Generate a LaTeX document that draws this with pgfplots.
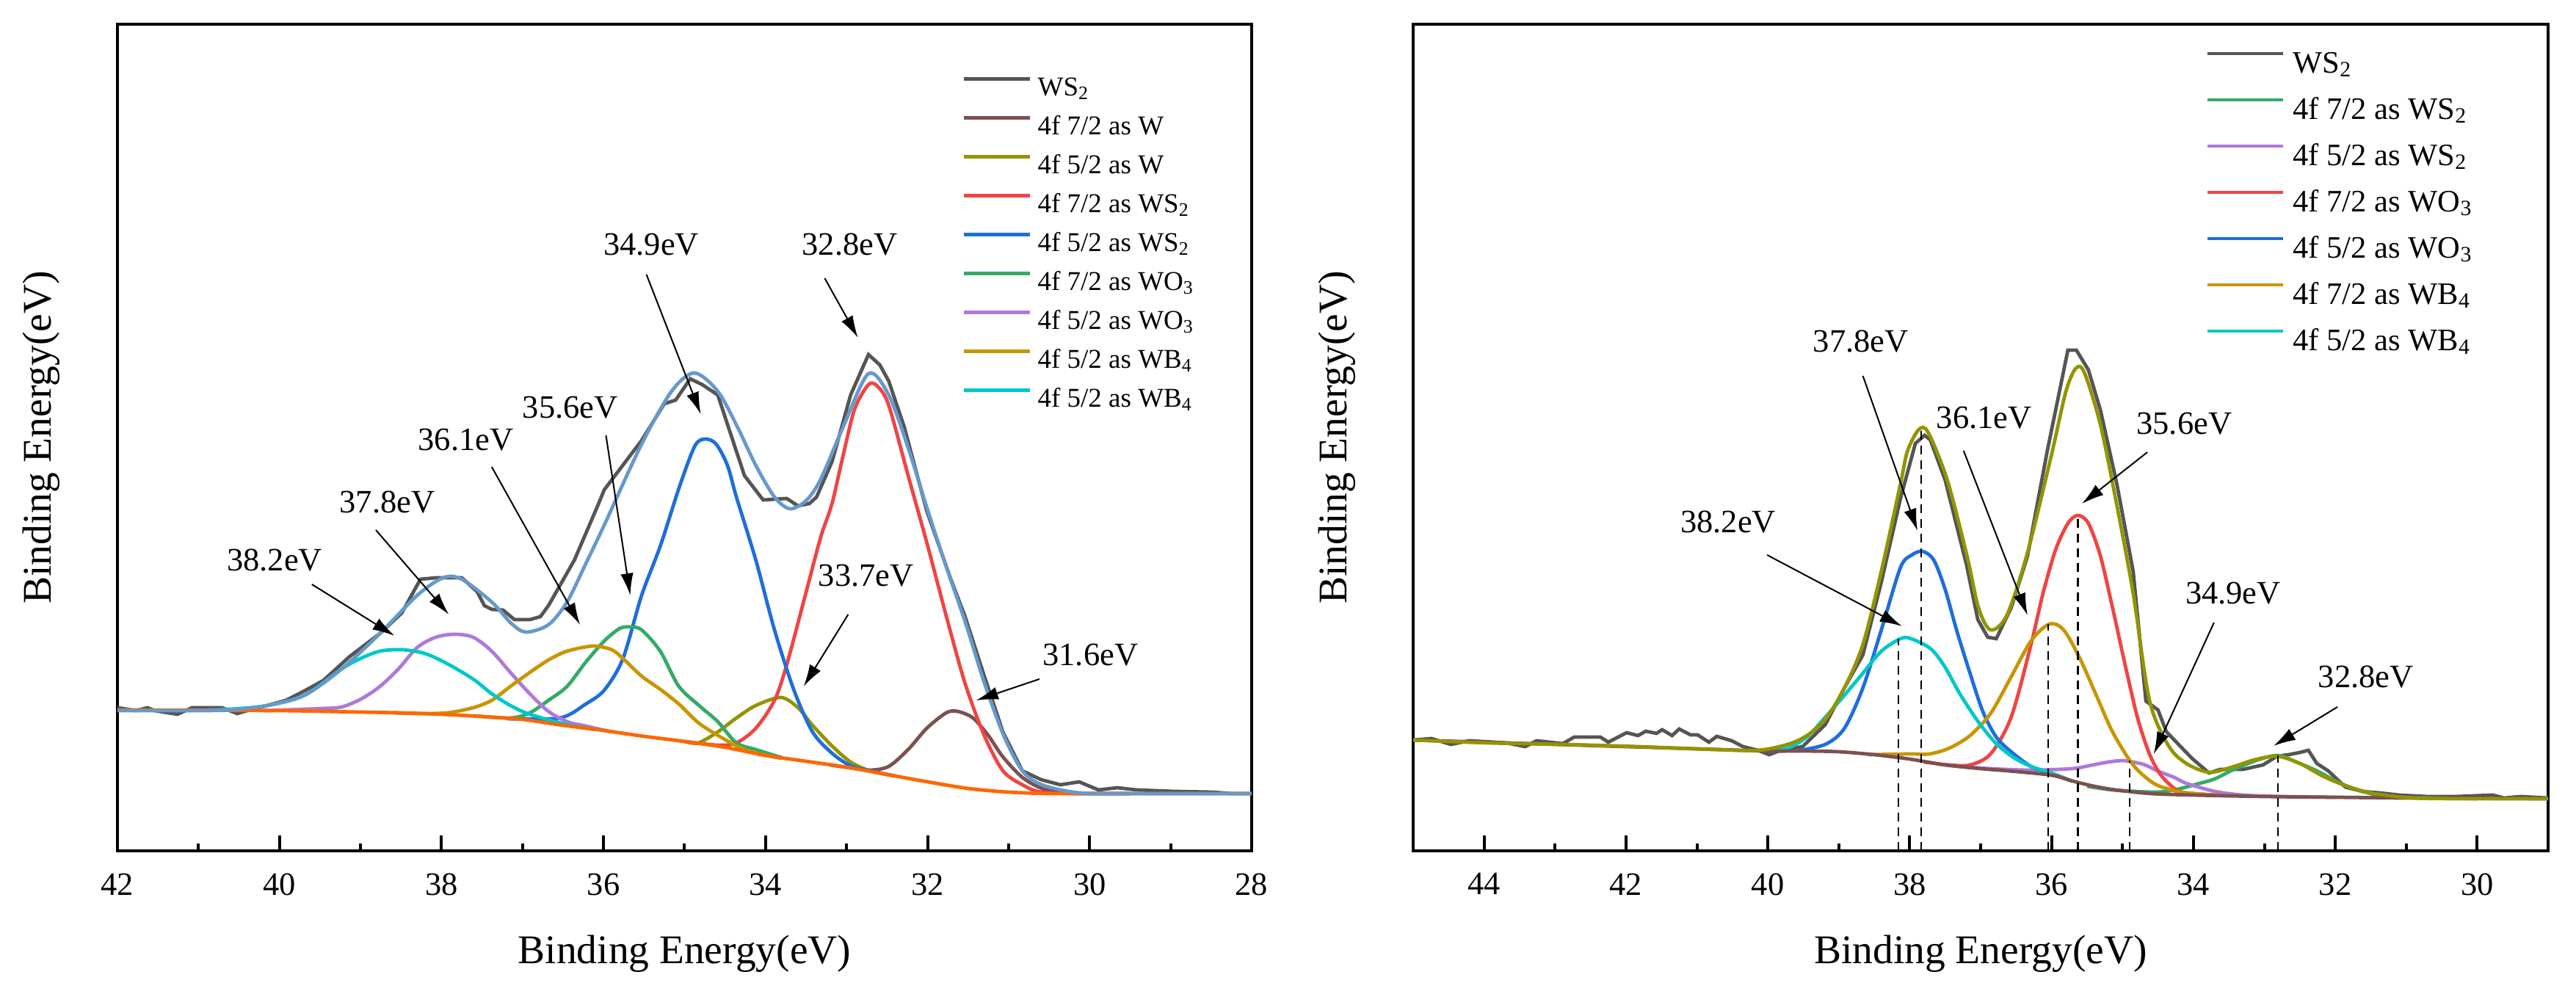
\documentclass[border=0pt]{standalone}
\usepackage{fontspec}
\setmainfont{Liberation Serif}
\usepackage{pgfplots}
\pgfplotsset{compat=1.18}
\usetikzlibrary{arrows.meta}

\definecolor{cgray}{RGB}{85,85,85}
\definecolor{cenv}{RGB}{102,153,204}
\definecolor{corange}{RGB}{255,102,0}
\definecolor{cbrown}{RGB}{126,80,80}
\definecolor{colive}{RGB}{148,148,0}
\definecolor{cred}{RGB}{240,68,68}
\definecolor{cblue}{RGB}{30,110,220}
\definecolor{cgreen}{RGB}{52,170,102}
\definecolor{cpurple}{RGB}{175,120,220}
\definecolor{cgold}{RGB}{200,150,0}
\definecolor{ccyan}{RGB}{0,200,200}

\tikzset{
  arr/.style={-{Latex[length=6pt,width=3.5pt]}, line width=0.4pt, black},
  lbl/.style={font=\fontsize{8.9}{10}\selectfont, inner sep=0pt},
  dl/.style={black, line width=0.5pt, dash pattern=on 2.4pt off 1.6pt},
}
\pgfplotsset{
  xpsaxis/.style={
    scale only axis, height=225.2pt,
    x dir=reverse, ymin=0, ymax=1126,
    ytick=\empty,
    xtick distance=2, minor x tick num=1,
    tick align=inside, xtick pos=left,
    major tick length=4.2pt, minor tick length=2pt,
    major tick style={black, line width=0.8pt},
    minor tick style={black, line width=0.8pt},
    axis line style={line width=0.9pt},
    /pgf/number format/assume math mode=true,
    xticklabel style={font=\fontsize{8.9}{10}\selectfont, yshift=-2.6pt},
    label style={font=\fontsize{11.1}{13}\selectfont},
    xlabel={Binding Energy(eV)}, ylabel={Binding Energy(eV)},
    xlabel style={at={(axis description cs:0.5,-0.1359)}, anchor=base},
    ylabel style={at={(axis description cs:-0.0583,0.5)}, anchor=base},
    legend cell align=left,
    every axis plot/.append style={line width=0.95pt},
  },
}

\begin{document}
\begin{tikzpicture}
\path[use as bounding box] (0,0) rectangle (701.8pt,270.6pt);

% ---------------- LEFT ----------------
\begin{axis}[xpsaxis, width=309pt, at={(32pt,38.8pt)}, anchor=south west,
  xmin=28, xmax=42,
  legend style={draw=none, fill=none, at={(axis description cs:0.7443,0.9458)}, anchor=north west,
    inner sep=0pt, row sep=0.8pt, column sep=0.6pt, font=\fontsize{7.4}{8}\selectfont,
    nodes={inner sep=1pt, text height=6pt, text depth=1.8pt}},
  legend image code/.code={\draw[#1] (0pt,2.4pt) -- (18pt,2.4pt);},
]
\addplot[cgray] coordinates {(42.00,195) (41.77,191) (41.63,195) (41.54,191) (41.26,186) (41.08,195) (40.84,195) (40.71,195) (40.52,187) (40.34,193) (40.15,198) (39.92,205) (39.69,218) (39.46,232) (39.13,265) (38.76,296) (38.49,324) (38.26,370) (38.07,372) (37.75,372) (37.56,353) (37.47,334) (37.38,329) (37.24,328) (37.10,315) (36.91,315) (36.78,319) (36.68,334) (36.36,396) (36.08,468) (35.99,492) (35.53,559) (35.25,609) (35.11,614) (34.93,643) (34.78,635) (34.59,621) (34.26,511) (34.03,478) (33.74,480) (33.60,470) (33.46,473) (33.37,482) (33.18,530) (32.95,621) (32.73,676) (32.59,662) (32.48,640) (32.29,578) (32.01,463) (31.72,372) (31.54,320) (31.30,238) (31.07,162) (30.83,109) (30.60,97) (30.36,90) (30.13,94) (29.89,83) (29.66,86) (29.42,83) (28.95,81) (28.48,80) (28.25,78) (28.00,78)};
\addlegendentry{WS\textsubscript{2}}
\addplot[cbrown, smooth, tension=0.5] coordinates {(33.2,117) (32.95,113) (32.71,110) (32.48,115) (32.24,138) (32.01,167) (31.77,188) (31.63,190) (31.44,181) (31.25,157) (31.07,128) (30.83,100) (30.59,85) (30.36,80) (30.13,78) (29.5,78)};
\addlegendentry{4f 7/2 as W}
\addplot[colive, smooth, tension=0.5] coordinates {(35.0,149) (34.83,147) (34.59,162) (34.36,181) (34.12,198) (33.81,209) (33.60,195) (33.42,171) (33.18,143) (32.95,121) (32.71,109) (32.4,102)};
\addlegendentry{4f 5/2 as W}
\addplot[cred, smooth, tension=0.5] coordinates {(35.0,149) (34.59,144) (34.36,147) (34.12,167) (33.89,205) (33.74,253) (33.51,348) (33.32,427) (33.18,473) (33.04,540) (32.90,602) (32.73,635) (32.62,633) (32.48,607) (32.24,511) (32.01,420) (31.77,320) (31.54,229) (31.30,157) (31.07,109) (30.83,90) (30.60,80) (30.13,78) (29.5,78)};
\addlegendentry{4f 7/2 as WS\textsubscript{2}}
\addplot[cblue, smooth, tension=0.5] coordinates {(37.2,180) (36.54,181) (36.22,200) (35.99,219) (35.76,262) (35.53,348) (35.30,415) (35.06,497) (34.87,552) (34.74,561) (34.61,554) (34.47,525) (34.36,482) (34.12,396) (33.89,301) (33.65,219) (33.42,162) (33.18,133) (32.95,116) (32.71,109) (32.4,102)};
\addlegendentry{4f 5/2 as WS\textsubscript{2}}
\addplot[cgreen, smooth, tension=0.5] coordinates {(37.6,184) (37.15,181) (36.91,188) (36.68,205) (36.45,224) (36.22,257) (35.99,286) (35.80,303) (35.67,305) (35.53,301) (35.30,272) (35.07,224) (34.80,196) (34.59,176) (34.36,147) (34.12,138) (33.8,127)};
\addlegendentry{4f 7/2 as WO\textsubscript{3}}
\addplot[cpurple, smooth, tension=0.5] coordinates {(40.2,191) (39.92,192) (39.46,194) (39.23,196) (38.99,207) (38.76,224) (38.53,248) (38.30,277) (38.07,291) (37.84,295) (37.61,291) (37.38,272) (37.15,243) (36.91,214) (36.68,190) (36.45,176) (36.22,170) (35.9,162)};
\addlegendentry{4f 5/2 as WO\textsubscript{3}}
\addplot[cgold, smooth, tension=0.5] coordinates {(38.6,188) (38.30,187) (37.93,188) (37.61,195) (37.38,205) (37.15,224) (36.91,243) (36.68,260) (36.45,272) (36.13,279) (35.90,274) (35.76,262) (35.53,238) (35.30,220) (35.07,200) (34.80,172) (34.36,143) (34.12,133) (33.8,126)};
\addlegendentry{4f 5/2 as WB\textsubscript{4}}
\addplot[ccyan, smooth, tension=0.5] coordinates {(41.2,191) (40.61,193) (40.15,198) (39.69,212) (39.23,248) (39.00,262) (38.76,272) (38.49,274) (38.21,269) (37.93,255) (37.61,234) (37.38,214) (37.15,198) (36.91,186) (36.45,172) (36.1,165)};
\addlegendentry{4f 5/2 as WB\textsubscript{4}}
\addplot[corange, smooth, tension=0.5, forget plot] coordinates {(42,192) (40,191) (39,189) (38.5,188) (38,186) (37.5,183) (37,179) (36.5,171) (36,164) (35.5,156) (35,149) (34.5,141) (34,130) (33.5,122) (33,114) (32.5,104) (32,94) (31.5,85) (31,80) (30.5,78) (30,78) (28,78)};
\addplot[cenv, smooth, tension=0.5, forget plot] coordinates {(42.00,191) (41.00,191) (40.61,192) (40.15,198) (39.69,212) (39.23,248) (38.76,296) (38.30,348) (37.98,372) (37.75,370) (37.38,339) (37.14,310) (36.96,298) (36.68,308) (36.45,339) (36.22,391) (35.99,444) (35.53,554) (35.16,626) (34.88,651) (34.59,626) (34.35,578) (34.12,525) (33.89,482) (33.70,466) (33.50,477) (33.32,506) (33.04,578) (32.73,650) (32.48,621) (32.24,549) (32.01,468) (31.77,387) (31.53,310) (31.30,229) (31.06,157) (30.83,109) (30.59,90) (30.13,79) (29.50,78) (28.00,78)};
% annotations
\node[lbl] at (40.06,396) {38.2eV};
\draw[arr] (39.60,363) -- (38.58,293);
\node[lbl] at (38.67,475) {37.8eV};
\draw[arr] (38.81,437) -- (37.91,322);
\node[lbl] at (37.70,560) {36.1eV};
\draw[arr] (37.38,523) -- (36.29,308);
\node[lbl] at (36.41,604) {35.6eV};
\draw[arr] (35.97,566) -- (35.67,348);
\node[lbl] at (35.41,826) {34.9eV};
\draw[arr] (35.47,785) -- (34.80,595);
\node[lbl] at (32.96,826) {32.8eV};
\draw[arr] (33.27,780) -- (32.86,699);
\node[lbl] at (32.76,375) {33.7eV};
\draw[arr] (32.98,322) -- (33.53,224);
\node[lbl] at (29.99,267) {31.6eV};
\draw[arr] (30.62,234) -- (31.40,205);
\end{axis}

% ---------------- RIGHT ----------------
\begin{axis}[xpsaxis, width=309.2pt, at={(385pt,38.8pt)}, anchor=south west,
  xmin=29, xmax=45,
  legend style={draw=none, fill=none, at={(axis description cs:0.6979,0.9769)}, anchor=north west,
    inner sep=0pt, row sep=1.8pt, column sep=1.2pt, font=\fontsize{8.5}{9}\selectfont,
    nodes={inner sep=1pt, text height=6.8pt, text depth=2pt}},
  legend image code/.code={\draw[#1] (0pt,2.8pt) -- (20.6pt,2.8pt);},
]
\addplot[cgray] coordinates {(45.00,151) (44.74,153) (44.47,145) (44.21,150) (43.68,147) (43.42,142) (43.26,150) (42.89,146) (42.73,155) (42.36,155) (42.25,148) (41.99,161) (41.83,157) (41.72,163) (41.57,160) (41.49,165) (41.35,157) (41.25,166) (41.09,158) (40.99,158) (40.83,148) (40.72,156) (40.51,150) (40.35,142) (40.14,137) (39.98,131) (39.82,137) (39.51,142) (39.19,172) (38.92,222) (38.66,267) (38.40,366) (38.13,480) (37.92,555) (37.79,566) (37.71,560) (37.50,505) (37.20,390) (37.04,315) (36.90,291) (36.78,289) (36.57,331) (36.34,401) (36.06,545) (35.77,682) (35.65,682) (35.48,655) (35.31,600) (35.08,500) (34.85,381) (34.67,204) (34.50,192) (34.38,162) (34.18,142) (34.02,126) (33.78,106) (33.62,111) (33.30,111) (33.02,117) (32.82,129) (32.66,131) (32.50,134) (32.38,137) (32.26,119) (32.10,109) (31.86,87) (31.62,81) (31.38,79) (31.10,76) (30.70,74) (30.30,74) (29.78,76) (29.62,72) (29.38,74) (29.02,72) (29.00,72)};
\addlegendentry{WS\textsubscript{2}}
\addplot[cgreen, smooth, tension=0.5] coordinates {(35.5,88) (35.14,83) (34.56,80) (34.27,83) (33.95,91) (33.70,98) (33.45,110) (33.12,123) (32.81,130) (32.55,121) (32.26,109) (31.97,94) (31.69,83) (31.40,76) (31.11,73) (30.50,72) (30.0,71)};
\addlegendentry{4f 7/2 as WS\textsubscript{2}}
\addplot[cpurple, smooth, tension=0.5] coordinates {(37.3,115) (36.86,112) (36.29,110) (35.71,112) (35.42,117) (35.20,121) (35.00,123) (34.85,121) (34.68,117) (34.51,109) (34.27,100) (34.10,92) (33.70,81) (33.30,76) (32.74,74) (32.0,73)};
\addlegendentry{4f 5/2 as WS\textsubscript{2}}
\addplot[cred, smooth, tension=0.5] coordinates {(37.8,121) (37.44,117) (37.15,117) (36.86,132) (36.57,182) (36.29,281) (36.12,351) (35.94,411) (35.77,446) (35.63,457) (35.48,446) (35.31,401) (35.14,331) (34.96,252) (34.79,182) (34.62,132) (34.45,102) (34.22,82) (33.99,78) (33.50,75)};
\addlegendentry{4f 7/2 as WO\textsubscript{3}}
\addplot[cblue, smooth, tension=0.5] coordinates {(39.60,136) (39.19,145) (38.92,167) (38.66,222) (38.40,301) (38.13,386) (37.97,403) (37.82,408) (37.66,396) (37.50,356) (37.34,301) (37.16,245) (36.97,190) (36.78,155) (36.57,135) (36.29,115) (36.00,105) (35.71,95)};
\addlegendentry{4f 5/2 as WO\textsubscript{3}}
\addplot[cgold, smooth, tension=0.5] coordinates {(38.6,131) (38.00,132) (37.72,132) (37.44,140) (37.15,157) (36.86,187) (36.57,237) (36.29,286) (36.03,309) (35.83,301) (35.60,262) (35.37,212) (35.14,162) (34.85,117) (34.56,92) (34.27,82) (33.99,78) (33.50,75)};
\addlegendentry{4f 7/2 as WB\textsubscript{4}}
\addplot[ccyan, smooth, tension=0.5] coordinates {(40.00,136) (39.72,140) (39.45,155) (39.19,182) (38.92,212) (38.66,242) (38.40,272) (38.13,289) (37.98,289) (37.70,275) (37.50,250) (37.30,215) (37.05,178) (36.80,148) (36.55,128) (36.29,115) (36.00,106) (35.71,95)};
\addlegendentry{4f 5/2 as WB\textsubscript{4}}
\addplot[cbrown, smooth, tension=0.5, forget plot] coordinates {(45,151) (44,148) (43,145) (42,142) (41,139) (40,136) (39.5,136) (39,135) (38.5,131) (38,125) (37.5,117) (37,112) (36.5,108) (36,103) (35.7,95) (35.4,88) (35.1,83) (34.6,78) (34,76) (33,74) (32,73) (31,72) (29,71)};
\addplot[colive, smooth, tension=0.5, forget plot] coordinates {(45.00,151) (43.94,147) (42.89,145) (41.83,142) (40.77,138) (40.14,137) (39.72,145) (39.45,157) (39.19,179) (38.92,222) (38.66,281) (38.40,381) (38.13,500) (38.03,545) (37.87,574) (37.74,570) (37.47,505) (37.19,401) (37.03,331) (36.86,301) (36.63,321) (36.34,406) (36.00,540) (35.80,625) (35.66,657) (35.54,652) (35.31,580) (35.08,471) (34.85,351) (34.62,205) (34.35,143) (34.10,119) (33.78,107) (33.46,114) (33.14,124) (32.82,129) (32.50,119) (32.18,102) (31.86,89) (31.50,79) (30.90,72) (30.00,71) (29.00,71)};
\addplot[dl, forget plot] coordinates {(38.16,0) (38.16,289)};
\addplot[dl, forget plot] coordinates {(37.84,0) (37.84,574)};
\addplot[dl, forget plot] coordinates {(36.05,0) (36.05,309)};
\addplot[dl, forget plot] coordinates {(35.63,0) (35.63,457)};
\addplot[dl, forget plot] coordinates {(34.90,0) (34.90,123)};
\addplot[dl, forget plot] coordinates {(32.81,0) (32.81,130)};
% annotations
\node[lbl] at (38.69,694) {37.8eV};
\draw[arr] (38.66,647) -- (37.89,436);
\node[lbl] at (40.56,448) {38.2eV};
\draw[arr] (40.01,403) -- (38.11,306);
\node[lbl] at (36.95,590) {36.1eV};
\draw[arr] (37.24,545) -- (36.34,321);
\node[lbl] at (34.13,582) {35.6eV};
\draw[arr] (34.65,543) -- (35.57,473);
\node[lbl] at (33.44,351) {34.9eV};
\draw[arr] (33.71,311) -- (34.56,132);
\node[lbl] at (31.57,237) {32.8eV};
\draw[arr] (31.97,196) -- (32.87,143);
\end{axis}
\end{tikzpicture}
\end{document}
